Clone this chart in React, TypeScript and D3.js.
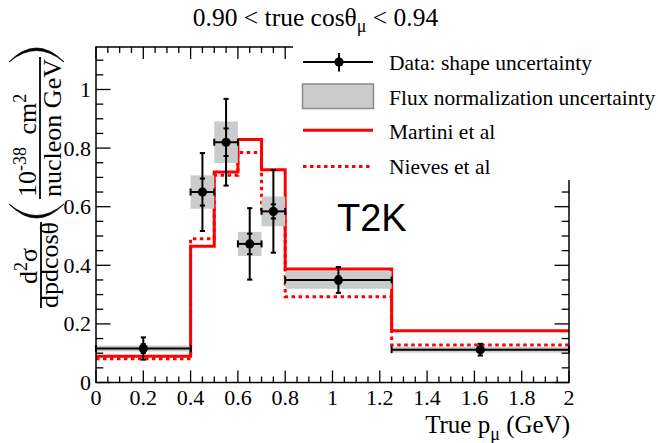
import React from "react";
import * as d3 from "d3";

// Bin edges in true muon momentum (GeV)
const binEdges = [0, 0.4, 0.5, 0.6, 0.7, 0.8, 1.25, 2.0];
// Measured cross section per bin (10^-38 cm^2 / nucleon GeV)
const dataX = [0.2, 0.45, 0.55, 0.65, 0.75, 1.025, 1.625];
const dataY = [0.116, 0.65, 0.82, 0.473, 0.584, 0.35, 0.112];
const shapeErr = [0.038, 0.133, 0.148, 0.122, 0.141, 0.044, 0.02];
const innerErr = [0.015, 0.046, 0.047, 0.035, 0.024, 0.012, 0.008];
const fluxErr = [0.01, 0.057, 0.071, 0.041, 0.051, 0.03, 0.01];
// Model predictions per bin
const martini = [0.09, 0.465, 0.718, 0.829, 0.726, 0.387, 0.177];
const nieves = [0.081, 0.491, 0.707, 0.785, 0.59, 0.293, 0.128];
// Axis ticks
const xTickValues = [0, 0.2, 0.4, 0.6, 0.8, 1, 1.2, 1.4, 1.6, 1.8, 2];
const xTickLabels = ["0", "0.2", "0.4", "0.6", "0.8", "1", "1.2", "1.4", "1.6", "1.8", "2"];
const yTickValues = [0, 0.2, 0.4, 0.6, 0.8, 1];
const yTickLabels = ["0", "0.2", "0.4", "0.6", "0.8", "1"];

const SERIF = "'Liberation Serif', 'Times New Roman', serif";
const SANS = "'Liberation Sans', Arial, sans-serif";

export default function App() {
  const W = 658;
  const H = 443;
  const L = 96, R = 569, T = 47, B = 382.5;
  const x = d3.scaleLinear().domain([0, 2]).range([L, R]);
  const y = d3.scaleLinear().domain([0, 1.145]).range([B, T]);

  const xMinor = x.ticks(40);
  const yMinor = y.ticks(25);

  const stepLine = d3
    .line<[number, number]>()
    .x((d) => x(d[0]))
    .y((d) => y(d[1]))
    .curve(d3.curveStepAfter);
  const histPts = (vals: number[]): [number, number][] => [
    ...vals.map((v, i) => [binEdges[i], v] as [number, number]),
    [binEdges[binEdges.length - 1], vals[vals.length - 1]],
  ];

  const capW = 2.6;
  const capH = 3.5;

  return (
    <svg
      width={W}
      height={H}
      style={{ position: "absolute", left: 0, top: 0, background: "#fff" }}
      fontFamily={SERIF}
    >
      <rect x={0} y={0} width={W} height={H} fill="#fff" />

      {/* model histograms */}
      <path d={stepLine(histPts(nieves)) || ""} fill="none" stroke="#ff0000" strokeWidth={3} strokeDasharray="3.5 3.5" />
      <path d={stepLine(histPts(martini)) || ""} fill="none" stroke="#ff0000" strokeWidth={3} />

      {/* flux normalization bands */}
      {dataY.map((v, i) => (
        <rect
          key={"f" + i}
          x={x(binEdges[i])}
          y={y(v + fluxErr[i])}
          width={x(binEdges[i + 1]) - x(binEdges[i])}
          height={y(v - fluxErr[i]) - y(v + fluxErr[i])}
          fill="#cbcbcb"
        />
      ))}

      {/* data points with shape uncertainty */}
      {dataY.map((v, i) => {
        const cx = x(dataX[i]);
        const cy = y(v);
        const x0 = x(binEdges[i]);
        const x1 = x(binEdges[i + 1]);
        const yt = y(v + shapeErr[i]);
        const yb = y(v - shapeErr[i]);
        const it = y(v + innerErr[i]);
        const ib = y(v - innerErr[i]);
        return (
          <g key={"d" + i} stroke="#000" strokeWidth={2}>
            <line x1={x0} x2={x1} y1={cy} y2={cy} />
            <line x1={x0} x2={x0} y1={cy - capH} y2={cy + capH} />
            <line x1={x1} x2={x1} y1={cy - capH} y2={cy + capH} />
            <line x1={cx} x2={cx} y1={yt} y2={yb} />
            <line x1={cx - capW} x2={cx + capW} y1={yt} y2={yt} />
            <line x1={cx - capW} x2={cx + capW} y1={yb} y2={yb} />
            <line x1={cx - capW} x2={cx + capW} y1={it} y2={it} />
            <line x1={cx - capW} x2={cx + capW} y1={ib} y2={ib} />
            <circle cx={cx} cy={cy} r={4.6} fill="#000" stroke="none" />
          </g>
        );
      })}

      {/* frame and ticks */}
      <rect x={L} y={T} width={R - L} height={B - T} fill="none" stroke="#000" strokeWidth={1.5} />
      <g stroke="#000" strokeWidth={1.3}>
        {xMinor.map((t, i) => {
          const major = xTickValues.some((m) => Math.abs(m - t) < 1e-6);
          const len = major ? 12 : 6;
          return (
            <g key={"xt" + i}>
              <line x1={x(t)} x2={x(t)} y1={B} y2={B - len} />
              <line x1={x(t)} x2={x(t)} y1={T} y2={T + len} />
            </g>
          );
        })}
        {yMinor.map((t, i) => {
          const major = yTickValues.some((m) => Math.abs(m - t) < 1e-6);
          const len = major ? 14.5 : 7.3;
          return (
            <g key={"yt" + i}>
              <line x1={L} x2={L + len} y1={y(t)} y2={y(t)} />
              <line x1={R} x2={R - len} y1={y(t)} y2={y(t)} />
            </g>
          );
        })}
      </g>

      {/* tick labels */}
      <g fontSize={22} fill="#000">
        {xTickValues.map((t, i) => (
          <text key={"xl" + i} x={x(t)} y={405} textAnchor="middle">
            {xTickLabels[i]}
          </text>
        ))}
        {yTickValues.map((t, i) => (
          <text key={"yl" + i} x={91} y={y(t) + 7.5} textAnchor="end">
            {yTickLabels[i]}
          </text>
        ))}
      </g>

      {/* x axis title */}
      <text x={570} y={433} textAnchor="end" fontSize={25}>
        True p<tspan dy={7} fontSize={18}>μ</tspan>
        <tspan dy={-7}> (GeV)</tspan>
      </text>

      {/* y axis title */}
      <g transform="rotate(-90)" fontSize={26}>
        <text x={-266} y={37} textAnchor="middle">
          d<tspan dy={-10} fontSize={18}>2</tspan>
          <tspan dy={10}>σ</tspan>
        </text>
        <line x1={-222} x2={-308} y1={41} y2={41} stroke="#000" strokeWidth={1.8} />
        <text x={-265} y={58} textAnchor="middle">
          dpdcosθ
        </text>

        <text x={-197} y={36} textAnchor="start">
          10<tspan dy={-10} fontSize={18}>-38</tspan>
          <tspan dy={10} dx={6}> cm</tspan>
          <tspan dy={-10} fontSize={18}>2</tspan>
        </text>
        <line x1={-57} x2={-199} y1={40} y2={40} stroke="#000" strokeWidth={1.8} />
        <text x={-128} y={61} textAnchor="middle">
          nucleon GeV
        </text>
      </g>
      {/* enclosing brackets */}
      <path d="M 9,62 Q 36.5,34 64,62 Q 36.5,39 9,62 Z" fill="#000" stroke="#000" strokeWidth={0.8} />
      <path d="M 9,204 Q 36.5,232 64,204 Q 36.5,227 9,204 Z" fill="#000" stroke="#000" strokeWidth={0.8} />

      {/* experiment label */}
      <text x={337} y={231} fontFamily={SANS} fontSize={38}>
        T2K
      </text>

      {/* legend */}
      <rect x={293} y={38} width={365} height={142} fill="#fff" />
      <g fontSize={21.5}>
        <line x1={303} x2={373} y1={62} y2={62} stroke="#000" strokeWidth={2} />
        <line x1={339} x2={339} y1={53} y2={71.5} stroke="#000" strokeWidth={2} />
        <circle cx={339} cy={62} r={4.6} fill="#000" />
        <text x={389} y={69.5}>Data: shape uncertainty</text>

        <rect x={302.5} y={84} width={71} height={24.5} fill="#cbcbcb" stroke="#8a8a8a" strokeWidth={1.5} />
        <text x={389} y={104.5}>Flux normalization uncertainty</text>

        <line x1={303} x2={373} y1={130.3} y2={130.3} stroke="#ff0000" strokeWidth={3} />
        <text x={389} y={138.5}>Martini et al</text>

        <line x1={303} x2={373} y1={166.4} y2={166.4} stroke="#ff0000" strokeWidth={3} strokeDasharray="3.5 3.5" />
        <text x={389} y={173.5}>Nieves et al</text>
      </g>

      {/* title */}
      <text x={315.5} y={26} textAnchor="middle" fontSize={25.5}>
        0.90 &lt; true cosθ<tspan dy={6} fontSize={18}>μ</tspan>
        <tspan dy={-6}> &lt; 0.94</tspan>
      </text>
    </svg>
  );
}
